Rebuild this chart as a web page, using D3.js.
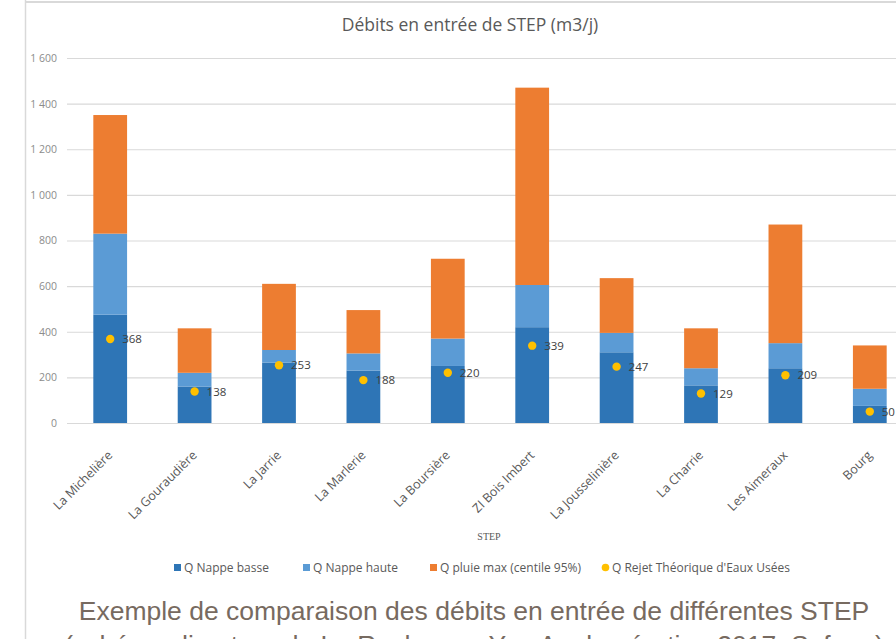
<!DOCTYPE html>
<html><head><meta charset="utf-8">
<script src="https://cdn.jsdelivr.net/npm/d3@7"></script>
<style>body{margin:0;background:#fff;}svg{display:block;}</style>
</head><body>
<svg id="c" width="896" height="639"></svg>
<script>
const categories = ["La Michelière","La Gouraudière","La Jarrie","La Marlerie","La Boursière","ZI Bois Imbert","La Jousselinière","La Charrie","Les Aimeraux","Bourg"];
const nappeBasse = [475,160,265,230,250,420,310,165,240,75];
const nappeHaute = [355,60,55,75,120,185,85,75,110,75];
const pluieMax   = [520,195,290,190,350,865,240,175,520,190];
const rejet      = [368,138,253,188,220,339,247,129,209,50];
const yTicks = [0,200,400,600,800,1000,1200,1400,1600];
const seriesNames = ["Q Nappe basse","Q Nappe haute","Q pluie max (centile 95%)","Q Rejet Théorique d'Eaux Usées"];
const colors = ["#2E75B6","#5B9BD5","#ED7D31","#FFC000"];

const svg = d3.select("#c");
const font = "'Open Sans', sans-serif";

// frame
svg.append("line").attr("x1",25.5).attr("x2",25.5).attr("y1",0).attr("y2",639).attr("stroke","#D9D9D9").attr("stroke-width",1.5);
svg.append("line").attr("x1",25).attr("x2",896).attr("y1",2).attr("y2",2).attr("stroke","#D9D9D9").attr("stroke-width",2);

const x = d3.scaleBand().domain(categories).range([68,912]).paddingInner(0.6).paddingOuter(0.3);
const y = d3.scaleLinear().domain([0,1600]).range([423,58]);

// gridlines
svg.append("g").selectAll("line").data(yTicks).join("line")
  .attr("x1",67).attr("x2",896).attr("y1",d=>y(d)+0.5).attr("y2",d=>y(d)+0.5)
  .attr("stroke","#D9D9D9").attr("stroke-width",1.2);

// y axis labels
const yAxis = d3.axisLeft(y).tickValues(yTicks).tickSize(0).tickPadding(0)
  .tickFormat(d=>d3.format(",")(d).replace(",", " "));
const ya = svg.append("g").attr("transform","translate(57,0)").call(yAxis);
ya.select(".domain").remove();
ya.selectAll("text").attr("font-family",font).attr("font-size",10.5).attr("fill","#8C8C8C");

// title
svg.append("text").attr("x",470).attr("y",31).attr("text-anchor","middle")
  .attr("font-family",font).attr("font-size",17.5).attr("fill","#595959")
  .text("Débits en entrée de STEP (m3/j)");

// stacked bars
const rows = categories.map((c,i)=>({cat:c, basse:nappeBasse[i], haute:nappeHaute[i], pluie:pluieMax[i]}));
const stack = d3.stack().keys(["basse","haute","pluie"])(rows);
svg.append("g").selectAll("g").data(stack).join("g").attr("fill",(d,i)=>colors[i])
  .selectAll("rect").data(d=>d).join("rect")
  .attr("x",d=>x(d.data.cat)).attr("width",x.bandwidth())
  .attr("y",d=>y(d[1])).attr("height",d=>y(d[0])-y(d[1]));

// rejet points
const pts = svg.append("g");
pts.selectAll("circle").data(rejet).join("circle")
  .attr("cx",(d,i)=>x(categories[i])+x.bandwidth()/2).attr("cy",d=>y(d)).attr("r",4.2)
  .attr("fill",colors[3]);
pts.selectAll("text").data(rejet).join("text")
  .attr("x",(d,i)=>x(categories[i])+x.bandwidth()/2+12).attr("y",d=>y(d)+4)
  .attr("font-family",font).attr("font-size",11.5).attr("fill","#404040").text(d=>d);

// x axis labels
const xa = svg.append("g").attr("transform","translate(0,423)")
  .call(d3.axisBottom(x).tickSize(0).tickPadding(0));
xa.select(".domain").remove();
xa.selectAll("text")
  .attr("font-family",font).attr("font-size",12.5).attr("fill","#595959")
  .attr("text-anchor","end").attr("dy",0)
  .attr("transform","translate(3,33) rotate(-45)");

// x axis title
svg.append("text").attr("x",489).attr("y",540).attr("text-anchor","middle")
  .attr("font-family","'Liberation Serif', serif").attr("font-size",10).attr("fill","#595959").text("STEP");

// legend
const legX = [174,303,430,602];
const leg = svg.append("g");
seriesNames.forEach((n,i)=>{
  if(i<3) leg.append("rect").attr("x",legX[i]).attr("y",564).attr("width",7).attr("height",7).attr("fill",colors[i]);
  else leg.append("circle").attr("cx",legX[i]+3.5).attr("cy",567.5).attr("r",3.8).attr("fill",colors[i]);
  leg.append("text").attr("x",legX[i]+10).attr("y",572).attr("font-family",font).attr("font-size",12)
    .attr("fill","#595959").text(n);
});

// caption
svg.append("text").attr("x",474).attr("y",620).attr("text-anchor","middle")
  .attr("font-family","'Liberation Sans', Arial, sans-serif").attr("font-size",26.5).attr("fill","#776A60")
  .text("Exemple de comparaison des débits en entrée de différentes STEP");
svg.append("text").attr("x",474).attr("y",654).attr("text-anchor","middle")
  .attr("font-family","'Liberation Sans', Arial, sans-serif").attr("font-size",26.5).attr("fill","#776A60")
  .text("(schéma directeur de La Roche-sur-Yon Agglomération 2017, Safege)");
</script>
</body></html>
